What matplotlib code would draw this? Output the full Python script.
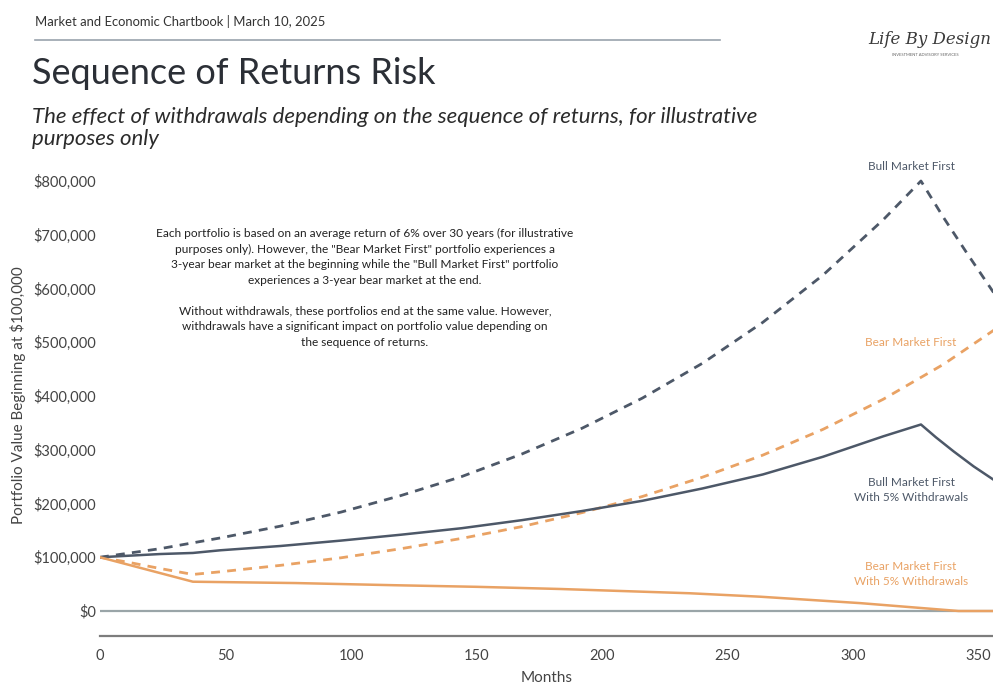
import matplotlib
matplotlib.use("Agg")
import matplotlib.pyplot as plt
from matplotlib.ticker import FuncFormatter

# ---- data ----
bull_months = [0, 24, 48, 72, 96, 120, 144, 168, 192, 216, 240, 264, 288, 312, 327, 336, 345, 356, 360]
bull_values = [100, 116, 136, 158, 184, 215, 250, 292, 340, 396, 461, 537, 625, 728, 800, 732, 668, 592, 566]

bear_months = [0, 12, 24, 37, 48, 72, 96, 120, 144, 168, 192, 216, 240, 264, 288, 312, 336, 360]
bear_values = [100, 90, 79, 68, 73, 85, 99, 116, 135, 157, 183, 213, 249, 290, 338, 394, 459, 535]

bull_wd_months = [0, 24, 37, 48, 72, 96, 120, 144, 168, 192, 216, 240, 264, 288, 312, 327, 333, 340, 348, 356, 360]
bull_wd_values = [100, 106, 108, 113, 121, 131, 142, 154, 169, 186, 205, 228, 254, 287, 325, 347, 323, 297, 269, 244, 233]

bear_wd_months = [0, 37, 78, 117, 150, 183, 235, 263, 303, 342, 360]
bear_wd_values = [100, 54.5, 52, 48, 45, 41, 33, 26.6, 14.6, 0, 0]

x_ticks = [0, 50, 100, 150, 200, 250, 300, 350]
y_ticks = [0, 100, 200, 300, 400, 500, 600, 700, 800]

NAVY = "#4d5868"
ORANGE = "#e9a264"

plt.rcParams['font.family'] = ['Lato', 'DejaVu Sans']

fig = plt.figure(figsize=(9.93, 6.86), dpi=100)
ax = fig.add_axes([100/993, 1-636/686, 1-100/993, (636-160)/686])

k = 1000
ax.plot(bull_months, [v*k for v in bull_values], color=NAVY, lw=2.0, ls=(0, (3.2, 2.6)))
ax.plot(bear_months, [v*k for v in bear_values], color=ORANGE, lw=2.0, ls=(0, (3.2, 2.6)))
ax.plot(bull_wd_months, [v*k for v in bull_wd_values], color=NAVY, lw=1.8)
ax.plot(bear_wd_months, [v*k for v in bear_wd_values], color=ORANGE, lw=1.8)

ax.axhline(0, color="#9aa5a8", lw=1.6, zorder=0)

ax.set_xlim(0, 355.7)
ax.set_ylim(-46500, (611-160)/0.5375*1000)
ax.set_xticks(x_ticks)
ax.set_yticks([v*k for v in y_ticks])
ax.yaxis.set_major_formatter(FuncFormatter(lambda v, p: f"${v:,.0f}"))

for s in ["top", "right", "left"]:
    ax.spines[s].set_visible(False)
ax.spines["bottom"].set_color("#7d7d7d")
ax.spines["bottom"].set_linewidth(1.6)
ax.tick_params(axis="y", length=0, labelsize=10.5, colors="#444444", pad=3)
ax.tick_params(axis="x", length=0, labelsize=10.5, colors="#444444", pad=9)
ax.set_xlabel("Months", fontsize=11, color="#444444", labelpad=6)
fig.text(18/993, 1-395/686, "Portfolio Value Beginning at $100,000", rotation=90,
         ha="center", va="center", fontsize=11, color="#444444")

# annotation block
note = ("Each portfolio is based on an average return of 6% over 30 years (for illustrative\n"
        "purposes only). However, the \"Bear Market First\" portfolio experiences a\n"
        "3-year bear market at the beginning while the \"Bull Market First\" portfolio\n"
        "experiences a 3-year bear market at the end.\n\n"
        "Without withdrawals, these portfolios end at the same value. However,\n"
        "withdrawals have a significant impact on portfolio value depending on\n"
        "the sequence of returns.")
fig.text(365/993, 1-288/686, note, ha="center", va="center", fontsize=8.6,
         color="#222222", linespacing=1.5)

# series labels
fig.text(911/993, 1-167/686, "Bull Market First", ha="center", va="center", fontsize=8.5, color=NAVY)
fig.text(911/993, 1-343/686, "Bear Market First", ha="center", va="center", fontsize=8.5, color=ORANGE)
fig.text(911/993, 1-490/686, "Bull Market First\nWith 5% Withdrawals", ha="center", va="center",
         fontsize=8.5, color=NAVY, linespacing=1.5)
fig.text(911/993, 1-574/686, "Bear Market First\nWith 5% Withdrawals", ha="center", va="center",
         fontsize=8.5, color=ORANGE, linespacing=1.5)

# header
fig.text(35/993, 1-22/686, "Market and Economic Chartbook | March 10, 2025", ha="left", va="center",
         fontsize=9.4, color="#333333")
fig.add_artist(plt.Line2D([35/993, 720/993], [1-40/686, 1-40/686], color="#9aa3ad", lw=1.2))
fig.text(32/993, 1-74/686, "Sequence of Returns Risk", ha="left", va="center",
         fontsize=26, color="#2b2f36")
fig.text(32/993, 1-128/686,
         "The effect of withdrawals depending on the sequence of returns, for illustrative\npurposes only",
         ha="left", va="center", fontsize=16, style="italic", color="#2b2b2b", linespacing=1.12)

# logo text
fig.text(868/993, 1-40/686, "Life By Design", ha="left", va="center", fontsize=12,
         style="italic", family="DejaVu Serif", color="#3a3a3a")
fig.text(925/993, 1-55/686, "INVESTMENT ADVISORY SERVICES", ha="center", va="center", fontsize=3,
         color="#666666")

fig.savefig("out.png", dpi=100)
